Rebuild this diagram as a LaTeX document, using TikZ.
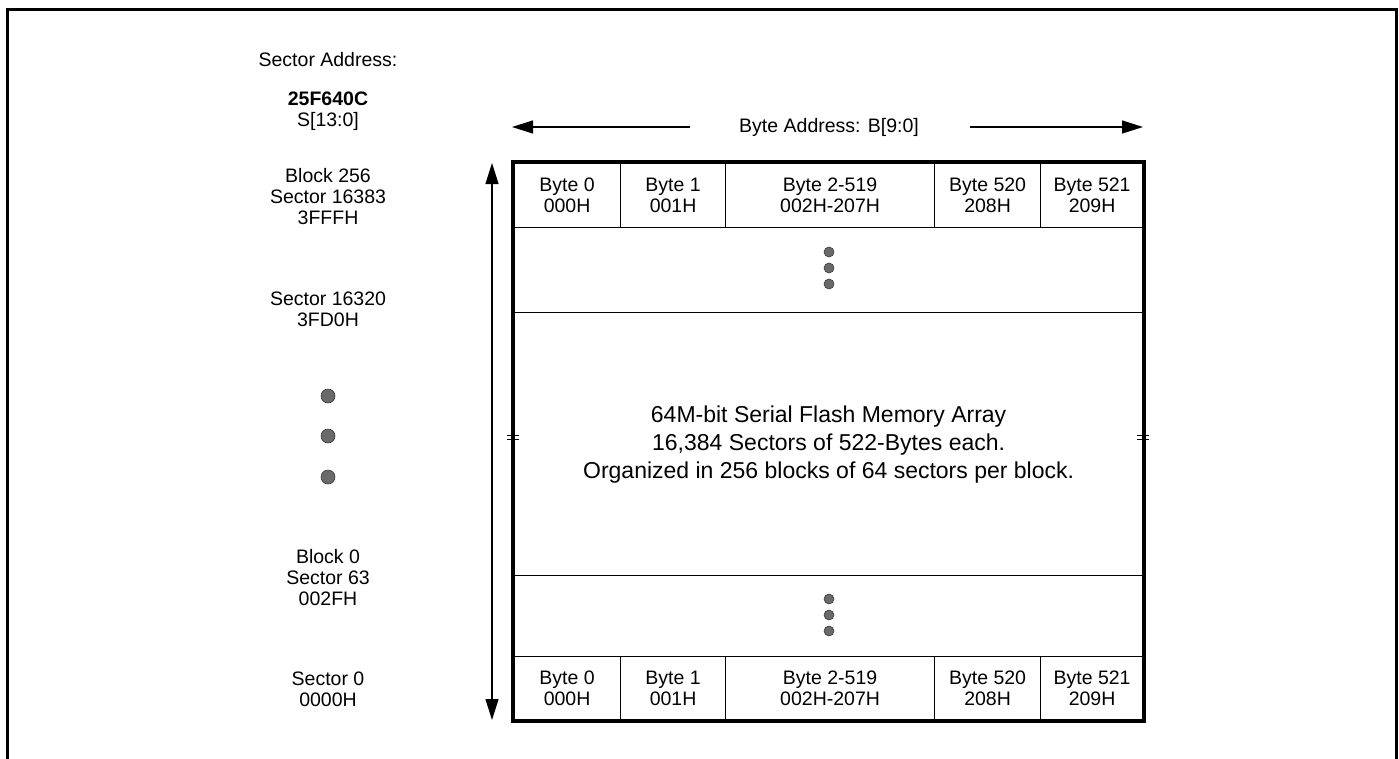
\documentclass[tikz,border=0pt]{standalone}
\usepackage{fontspec}
\setmainfont{Liberation Sans}
\usetikzlibrary{arrows.meta}
\definecolor{dotfill}{HTML}{6A6A6A}
\definecolor{dotedge}{HTML}{3A3A3A}
\begin{document}
\begin{tikzpicture}[x=1pt,y=-1pt,
  lbl/.style={align=center,font=\fontsize{19.5}{21}\selectfont,inner sep=0pt},
  cell/.style={draw,line width=1.2pt,inner sep=0pt,align=center,
    font=\fontsize{19.5}{21}\selectfont,anchor=north west},
  band/.style={draw,line width=1.2pt,inner sep=0pt,minimum width=630pt,anchor=north west},
  dot/.style={circle,fill=dotfill,draw=dotedge,line width=0.6pt,inner sep=0pt},
  arr/.style={line width=1.3pt,-{Triangle[length=21pt,width=13pt]}},
  frame/.style={line width=3pt},
  thick box/.style={line width=4pt},
  tick/.style={line width=1.6pt}
]
\useasboundingbox (0,0) rectangle (1399,758);
% outer frame (open at bottom)
\draw[frame] (7,760) -- (7,9.5) -- (1396,9.5) -- (1396,760);

% top row cells
\node[cell,minimum width=107pt,minimum height=65pt] (t1) at (513,162) {Byte 0\\000H};
\node[cell,minimum width=105pt,minimum height=65pt] (t2) at (620,162) {Byte 1\\001H};
\node[cell,minimum width=209pt,minimum height=65pt] (t3) at (725,162) {Byte 2-519\\002H-207H};
\node[cell,minimum width=106pt,minimum height=65pt] (t4) at (934,162) {Byte 520\\208H};
\node[cell,minimum width=103pt,minimum height=65pt] (t5) at (1040,162) {Byte 521\\209H};
% middle bands
\node[band,minimum height=85pt] (dtop) at (513,227) {};
\node[band,minimum height=263pt,align=center,font=\fontsize{23}{28}\selectfont] (arr) at (513,312)
  {64M-bit Serial Flash Memory Array\\16,384 Sectors of 522-Bytes each.\\Organized in 256 blocks of 64 sectors per block.};
\node[band,minimum height=81pt] (dbot) at (513,575) {};
% bottom row cells
\node[cell,minimum width=107pt,minimum height=64pt] (b1) at (513,656) {Byte 0\\000H};
\node[cell,minimum width=105pt,minimum height=64pt] (b2) at (620,656) {Byte 1\\001H};
\node[cell,minimum width=209pt,minimum height=64pt] (b3) at (725,656) {Byte 2-519\\002H-207H};
\node[cell,minimum width=106pt,minimum height=64pt] (b4) at (934,656) {Byte 520\\208H};
\node[cell,minimum width=103pt,minimum height=64pt] (b5) at (1040,656) {Byte 521\\209H};
% thick outline
\draw[thick box] (t1.north west) rectangle (b5.south east);

% dots in bands
\node[dot,minimum size=10pt] (dt1) at (829,252) {};
\node[dot,minimum size=10pt] (dt2) at (829,268) {};
\node[dot,minimum size=10pt] (dt3) at (829,284) {};
\node[dot,minimum size=10pt] (db1) at (829,599) {};
\node[dot,minimum size=10pt] (db2) at (829,615) {};
\node[dot,minimum size=10pt] (db3) at (829,631) {};

% side ticks
\draw[tick] (507,435.5) -- (519,435.5) (507,439.5) -- (519,439.5);
\draw[tick] (1137,435.5) -- (1149,435.5) (1137,439.5) -- (1149,439.5);

% vertical arrow
\coordinate (vtop) at (492,163);
\coordinate (vbot) at (492,720);
\draw[line width=1.3pt,{Triangle[length=21pt,width=13pt]}-{Triangle[length=21pt,width=13pt]}] (vtop) -- (vbot);

% horizontal arrow with label
\node[lbl] (ba) at (829,127) {Byte Address: B[9:0]};
\coordinate (hls) at (690,127);
\coordinate (hl) at (512,127);
\coordinate (hrs) at (970,127);
\coordinate (hr) at (1143,127);
\draw[arr] (hls) -- (hl);
\draw[arr] (hrs) -- (hr);

% left labels
\node[lbl] (sa) at (328,60) {Sector Address:};
\node[lbl] (dev) at (328,111) {\textbf{25F640C}\\S[13:0]};
\node[lbl] (s16383) at (328,197) {Block 256\\Sector 16383\\3FFFH};
\node[lbl] (s16320) at (328,309) {Sector 16320\\3FD0H};
\node[dot,minimum size=14pt] (ld1) at (328,396) {};
\node[dot,minimum size=14pt] (ld2) at (328,436) {};
\node[dot,minimum size=14pt] (ld3) at (328,477) {};
\node[lbl] (s63) at (328,578) {Block 0\\Sector 63\\002FH};
\node[lbl] (s0) at (328,689) {Sector 0\\0000H};
\end{tikzpicture}
\end{document}
